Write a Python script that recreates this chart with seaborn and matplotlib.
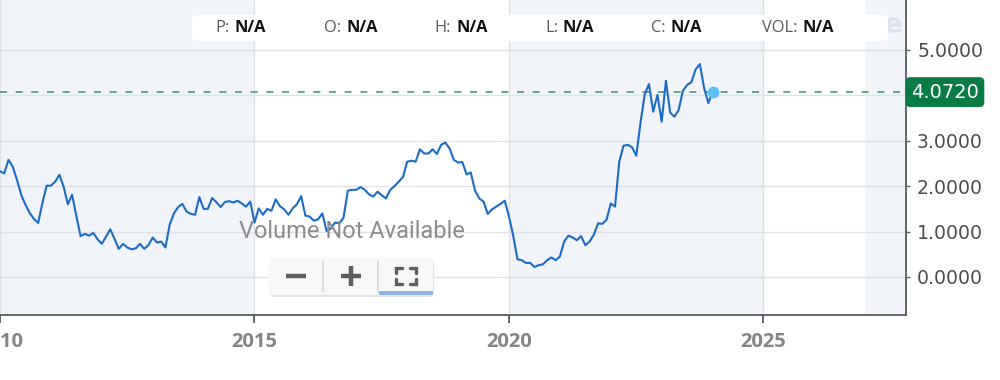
import numpy as np
import pandas as pd
import matplotlib
matplotlib.use("Agg")
import matplotlib.pyplot as plt
import seaborn as sns
from matplotlib.patches import FancyBboxPatch, Rectangle
from matplotlib.lines import Line2D
from matplotlib.transforms import Affine2D, blended_transform_factory

# ---------------- data ----------------
start_year = 2010
start_month = 1
prices = [
    2.33, 2.28, 2.58, 2.43, 2.14, 1.81, 1.59, 1.41, 1.28, 1.19, 1.63,
    2.01, 2.01, 2.10, 2.25, 1.99, 1.60, 1.81, 1.34, 0.90, 0.95,
    0.91, 0.97, 0.83, 0.73, 0.89, 1.05, 0.84, 0.62, 0.73, 0.65,
    0.61, 0.63, 0.73, 0.62, 0.70, 0.87, 0.76, 0.78, 0.65, 1.15,
    1.40, 1.54, 1.61, 1.44, 1.39, 1.37, 1.76, 1.50, 1.50, 1.74,
    1.65, 1.54, 1.65, 1.67, 1.64, 1.68, 1.62, 1.55, 1.66, 1.20,
    1.51, 1.37, 1.50, 1.46, 1.71, 1.56, 1.49, 1.37, 1.51, 1.60,
    1.78, 1.35, 1.33, 1.24, 1.27, 1.40, 1.01, 1.07, 1.20, 1.18,
    1.31, 1.90, 1.92, 1.92, 1.98, 1.92, 1.82, 1.77, 1.88, 1.80,
    1.73, 1.92, 2.00, 2.10, 2.20, 2.54, 2.56, 2.54, 2.81, 2.72,
    2.72, 2.81, 2.71, 2.91, 2.96, 2.83, 2.58, 2.52, 2.53, 2.26,
    2.30, 1.90, 1.73, 1.66, 1.39, 1.49, 1.55, 1.61, 1.68, 1.33,
    0.91, 0.39, 0.37, 0.31, 0.31, 0.22, 0.26, 0.28, 0.37, 0.43,
    0.37, 0.45, 0.78, 0.91, 0.87, 0.81, 0.90, 0.70, 0.78, 0.93,
    1.18, 1.17, 1.26, 1.62, 1.55, 2.54, 2.89, 2.91, 2.86, 2.67,
    3.39, 4.02, 4.25, 3.64, 4.01, 3.42, 4.32, 3.62, 3.53, 3.68,
    4.10, 4.23, 4.29, 4.57, 4.69, 4.16, 3.83, 4.072,
]
year_ticks = [2010, 2015, 2020, 2025]
price_ticks = [0, 1, 2, 3, 4, 5]
shaded_spans = [(2000, 2015), (2020, 2025), (2027, 2035)]
ohlc_labels = ["P:", "O:", "H:", "L:", "C:", "VOL:"]
ohlc_values = ["N/A", "N/A", "N/A", "N/A", "N/A", "N/A"]
volume_note = "Volume Not Available"

n = len(prices)
dates = start_year + (start_month - 1 + np.arange(n)) / 12.0
df = pd.DataFrame({"date": dates, "price": prices})
last_date = dates[-1]
last_price = prices[-1]

# ---------------- figure ----------------
sns.set_theme(style="white")
plt.rcParams["font.family"] = ["DejaVu Sans"]

W, H = 1000, 380
fig = plt.figure(figsize=(W / 100, H / 100), dpi=100)
fig.patch.set_facecolor("white")
# pixel (top-left origin) transform
PX = Affine2D().scale(0.01, -0.01).translate(0, H / 100) + fig.dpi_scale_trans

ax = fig.add_axes([0, 65 / H, 906 / W, 315 / H])
ax.set_facecolor("white")

for a, b in shaded_spans:
    ax.axvspan(a, b, color="#f1f5f9", zorder=0, lw=0)

ax.set_xlim(2010.07, 2027.80)
ax.set_ylim(-0.837, 6.10)

ax.set_xticks(year_ticks)
ax.set_xticklabels([str(y) for y in year_ticks])
ax.set_yticks(price_ticks)
# the current-price badge sits over the 4.0000 label, so that label is not shown
ax.set_yticklabels(["" if abs(v - last_price) < 0.5 else f"{v:.4f}"
                    for v in price_ticks])
ax.yaxis.tick_right()

ax.grid(True, color="#dfe1e5", lw=1.0, zorder=0.5)
ax.set_axisbelow(True)

ax.axhline(last_price, color="#4a9a76", lw=1.2, ls=(0, (4.2, 5.2)), zorder=2)

sns.lineplot(data=df, x="date", y="price", ax=ax, color="#1c6bc6", lw=1.5,
             zorder=3, legend=False)
ax.plot([last_date], [last_price], "o", ms=8.5, color="#5cbff5", zorder=4,
        markeredgewidth=0)

ax.set_xlabel("")
ax.set_ylabel("")

for side in ["top", "left"]:
    ax.spines[side].set_visible(False)
for side in ["right", "bottom"]:
    ax.spines[side].set_color("#555a60")
    ax.spines[side].set_linewidth(1.3)

ax.tick_params(axis="x", length=6, width=1.3, color="#555a60", pad=6.5,
               labelsize=14.5, labelcolor="#858585", bottom=True)
ax.tick_params(axis="y", length=3, width=1.0, color="#555a60", pad=5,
               labelsize=13.6, labelcolor="#4d4d4d", right=True, left=False)
for lab in ax.get_xticklabels():
    lab.set_fontfamily("Open Sans")
    lab.set_fontweight("bold")

# current price badge
trans = blended_transform_factory(ax.transAxes, ax.transData)
ax.text(1.0 + 5 / 906, last_price, f"{last_price:.4f}", transform=trans,
        ha="left", va="center", color="white", fontsize=14, zorder=10,
        clip_on=False,
        bbox=dict(boxstyle="round,pad=0.28,rounding_size=0.25",
                  fc="#0b7b45", ec="none"))

# ---------------- overlays (UI chrome) ----------------
# watermark fragment
fig.text(893, 25, "e", transform=PX, fontsize=20, fontweight="bold",
         color="#dde3ea", ha="center", va="center", zorder=1)

# OHLC header box
box = FancyBboxPatch((192, 15), 696, 26, boxstyle="round,pad=0,rounding_size=6",
                     transform=PX, fc="white", ec="none", zorder=2)
fig.patches.append(box)
value_x = [235, 346, 456, 563, 671, 802]
for lab, val, vx in zip(ohlc_labels, ohlc_values, value_x):
    fig.text(vx - 5, 28.5, lab, transform=PX, ha="right", va="center",
             fontsize=11.8, color="#5a5a5a", family="Open Sans", zorder=3)
    fig.text(vx, 28.5, val, transform=PX, ha="left", va="center",
             fontsize=11.8, color="#111111", family="Open Sans",
             fontweight="bold", zorder=3)

# volume note
fig.text(352, 232, volume_note, transform=PX, ha="center", va="center",
         fontsize=17, color="#8c8c8c", family="Roboto", fontweight="normal",
         zorder=3)

# zoom buttons
shadow = FancyBboxPatch((270, 259), 164, 38, boxstyle="round,pad=0,rounding_size=5",
                        transform=PX, fc="#e4e4e4", ec="none", zorder=2)
btn = FancyBboxPatch((269, 257), 164, 38, boxstyle="round,pad=0,rounding_size=5",
                     transform=PX, fc="#f7f7f7", ec="none", zorder=2.1)
fig.patches.extend([shadow, btn])
for sx in (323, 378):
    fig.lines.append(Line2D([sx, sx], [261, 291], transform=PX, color="#d6d6d6",
                            lw=1.2, zorder=3))
fig.patches.append(Rectangle((379, 291), 54, 4, transform=PX, fc="#8db5e8",
                             ec="none", zorder=3))
icon = "#5e5e5e"
fig.lines.append(Line2D([286, 306], [276, 276], transform=PX, color=icon, lw=3.2,
                        zorder=4, solid_capstyle="butt"))
fig.lines.append(Line2D([341, 361], [276, 276], transform=PX, color=icon, lw=3.2,
                        zorder=4, solid_capstyle="butt"))
fig.lines.append(Line2D([351, 351], [266, 286], transform=PX, color=icon, lw=3.2,
                        zorder=4, solid_capstyle="butt"))
for cx, cy, dx, dy in [(396, 268, 1, 1), (416, 268, -1, 1), (396, 284, 1, -1),
                       (416, 284, -1, -1)]:
    fig.lines.append(Line2D([cx + 6 * dx, cx, cx], [cy, cy, cy + 5 * dy],
                            transform=PX, color=icon, lw=2.4, zorder=4,
                            solid_joinstyle="miter"))

fig.savefig("out.png", dpi=100, facecolor="white")
